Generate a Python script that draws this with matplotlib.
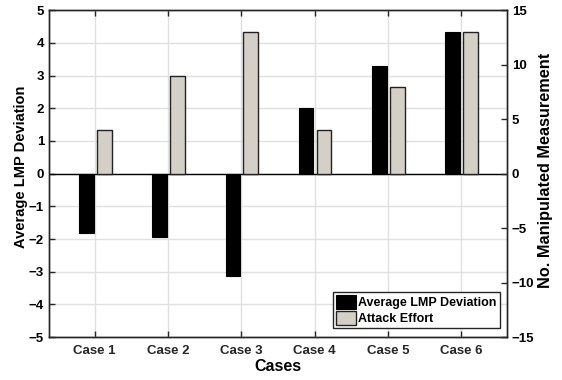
import matplotlib
matplotlib.use("Agg")
import matplotlib.pyplot as plt
import numpy as np

plt.rcParams['font.family'] = ['Liberation Sans', 'DejaVu Sans']
plt.rcParams['font.weight'] = 'bold'

cases = ["Case 1", "Case 2", "Case 3", "Case 4", "Case 5", "Case 6"]
lmp_deviation = [-1.83, -1.93, -3.13, 2.0, 3.3, 4.33]
attack_effort = [4, 9, 13, 4, 8, 13]

x = np.arange(1, len(cases) + 1)
width = 0.2

fig = plt.figure(figsize=(5.62, 3.8), dpi=100)
ax = fig.add_axes([0.087, 0.113, 0.815, 0.86])
ax2 = ax.twinx()

ax.grid(True, color='#e0e0e0', linewidth=1.0)
ax.set_axisbelow(True)
ax.axhline(0, color='black', linewidth=1.0, zorder=1)

b1 = ax.bar(x - 0.115, lmp_deviation, width, color='black', edgecolor='black',
            linewidth=0.8, label='Average LMP Deviation', zorder=2)
b2 = ax2.bar(x + 0.13, attack_effort, width, color='#d4d0c8', edgecolor='#222222',
             linewidth=1.0, label='Attack Effort', zorder=2)

ax.set_xlim(0.375, 6.625)
ax.set_ylim(-5, 5)
ax2.set_ylim(-15, 15)
ax.set_yticks(np.arange(-5, 6, 1))
ax2.set_yticks(np.arange(-15, 16, 5))
ax.set_xticks(x)
ax.set_xticklabels(cases)

for a in (ax, ax2):
    a.tick_params(direction='in', length=4, width=1.0, labelsize=9.5, colors='#262626')
    for s in a.spines.values():
        s.set_color('#262626')
        s.set_linewidth(1.0)
ax.tick_params(axis='x', top=True, pad=6)
for lab in ax.get_xticklabels() + ax.get_yticklabels() + ax2.get_yticklabels():
    lab.set_fontweight('bold')
ax.tick_params(axis='y', labelcolor='black')
ax2.tick_params(axis='y', labelcolor='black')

ax.set_xlabel('Cases', fontsize=11.5, fontweight='bold', labelpad=1)
ax.set_ylabel('Average LMP Deviation', fontsize=10.5, fontweight='bold')
ax2.set_ylabel('No. Manipulated Measurement', fontsize=11.7, fontweight='bold')
ax.yaxis.set_label_coords(-0.046, 0.52)
ax2.yaxis.set_label_coords(1.068, 0.511)

leg = ax2.legend([b1, b2], ['Average LMP Deviation', 'Attack Effort'],
                 loc='lower right', bbox_to_anchor=(0.99, 0.02),
                 fancybox=False, edgecolor='#262626', framealpha=1,
                 fontsize=9, handlelength=1.6, handleheight=1.3,
                 handletextpad=0.2, borderpad=0.25, labelspacing=0.15,
                 borderaxespad=0.2)
leg.get_frame().set_linewidth(1.0)
for t in leg.get_texts():
    t.set_fontweight('bold')

fig.savefig('out.png', dpi=100)
